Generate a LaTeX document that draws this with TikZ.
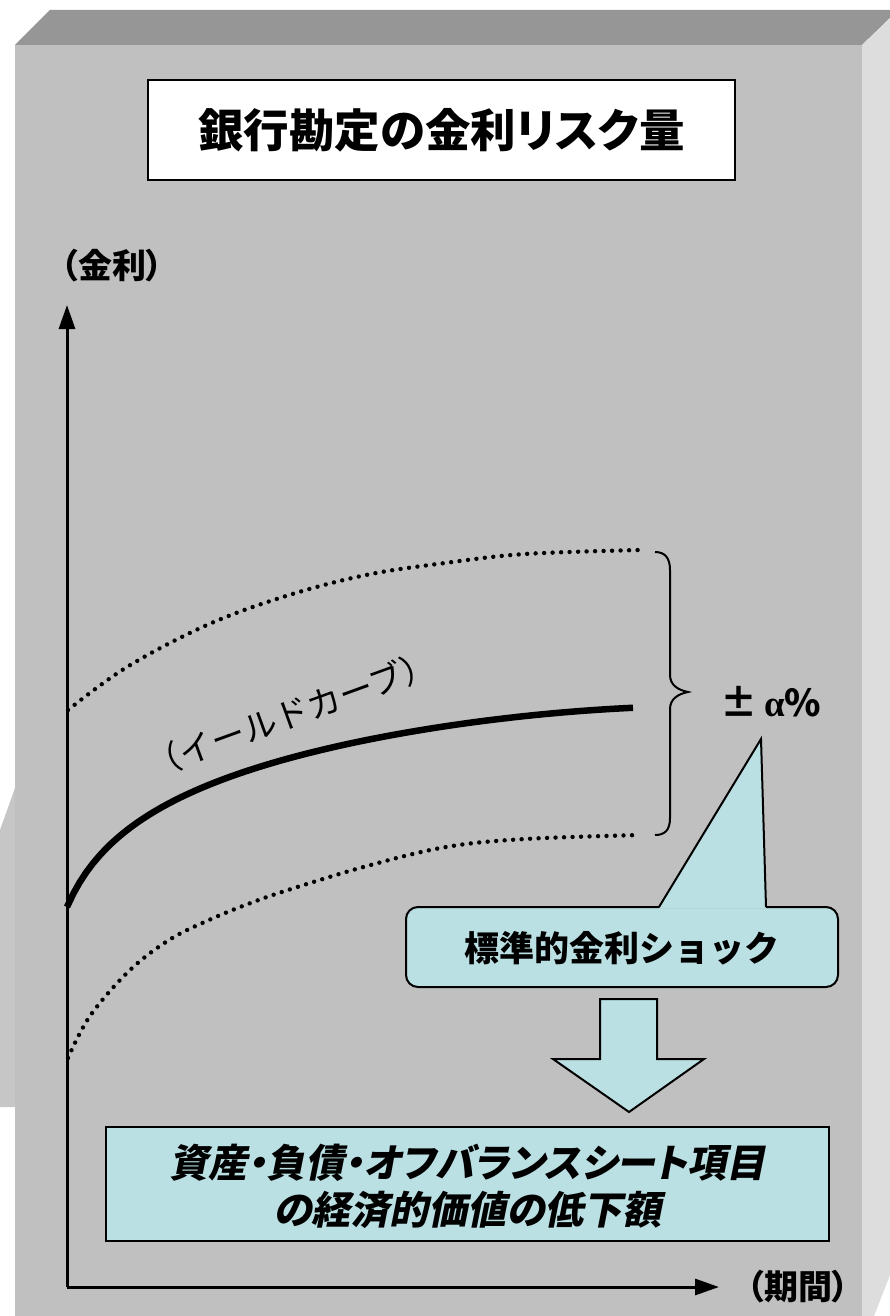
\documentclass[tikz,border=0pt]{standalone}
\usepackage{fontspec}
\newfontfamily\jp{Noto Sans CJK JP}[RawFeature=+palt]
\newfontfamily\jpw{Noto Sans CJK JP}
\newfontfamily\jpsl{Noto Sans CJK JP}[UprightFeatures={FakeSlant=0.2},BoldFeatures={FakeSlant=0.2},RawFeature=+palt]
\newfontfamily\lserif{Liberation Serif}
\usetikzlibrary{arrows.meta}
\definecolor{frontgray}{HTML}{C0C0C0}
\definecolor{topgray}{HTML}{969696}
\definecolor{sidegray}{HTML}{DDDDDD}
\definecolor{paleblue}{HTML}{BBE0E3}
\tikzset{
  axis/.style={line width=3pt,-{Triangle[length=24pt,width=16pt]}},
  curveline/.style={line width=6.5pt},
  dotline/.style={line width=4.4pt,line cap=round,dash pattern=on 0pt off 8.5pt},
  bluebox/.style={draw=black,line width=2pt,fill=paleblue},
  lbl/.style={inner sep=0pt,font=\jp\bfseries},
}
\begin{document}
\begin{tikzpicture}[x=1pt,y=-1pt]
\useasboundingbox (0,0) rectangle (890,1316);
\fill[white] (0,0) rectangle (890,1316);
% 3D box background
\fill[frontgray] (15,45) rectangle (862,1316);
\fill[topgray] (15,45) -- (50,10) -- (890,10) -- (890,18) -- (862,45) -- cycle;
\fill[sidegray] (862,45) -- (890,18) -- (890,1275) -- (874,1316) -- (862,1316) -- cycle;
\fill[frontgray!90!white] (15,788) -- (0,830) -- (0,1107) -- (15,1107) -- cycle;
% title
\node[draw=black,line width=2pt,fill=white,minimum width=587pt,minimum height=100pt,inner sep=0pt] (titlebox) at (441.5,130) {};
\node[lbl,font=\jp\bfseries\fontsize{45.5}{48}\selectfont] (title) at (441.5,130) {銀行勘定の金利リスク量};
% axes
\coordinate (origin) at (67,1287);
\coordinate (ytip) at (67,305);
\coordinate (xtip) at (719,1287);
\draw[axis] (origin) -- (ytip);
\draw[axis] (origin) -- (xtip);
\node[lbl,font=\jp\bfseries\fontsize{34}{36}\selectfont] (ylabel) at (112,266) {（金利）};
\node[lbl,font=\jp\bfseries\fontsize{34}{36}\selectfont] (xlabel) at (798,1287) {（期間）};
% curves
\draw[dotline] plot[smooth,tension=0.6] coordinates {(68,710) (127,667) (207,625) (286,596) (366,575) (445,563) (525,554) (640,550)};
\draw[curveline] plot[domain=0:566,samples=90,variable=\d] ({67+\d},{907-70*ln(1+\d/30)+10*(\d/566)^4});
\draw[dotline] plot[smooth,tension=0.6] coordinates {(68,1058) (90,1016) (129,971) (169,940) (209,920) (248,904) (288,890) (367,866) (446,847) (525,839) (640,835)};
\node[inner sep=0pt,rotate=20,font=\jpw\fontsize{34}{36}\selectfont] (yc) at (291,714) {（イールドカーブ）};
% brace
\draw[line width=2pt] (655,552) .. controls (665,552) and (670,558) .. (670,570) -- (670,675) .. controls (670,685) and (678,690) .. (688,692) .. controls (678,694) and (670,699) .. (670,709) -- (670,818) .. controls (670,830) and (665,835) .. (655,835);
\node[lbl,font=\jp\bfseries\fontsize{37}{38}\selectfont] (alpha) at (771,702) {±\,{\lserif\bfseries α}\%};
% callout
\node[bluebox,rounded corners=12pt,minimum width=432pt,minimum height=80pt,inner sep=0pt] (shockbox) at (622,947) {};
\fill[paleblue] (659,908.5) -- (761,739) -- (766,908.5) -- cycle;
\draw[line width=2pt] (659,907) -- (761,739) -- (766,907);
\node[inner sep=0pt,font=\jpw\bfseries\fontsize{35}{36}\selectfont] (shock) at (622,948) {標準的金利ショック};
% down arrow
\draw[bluebox,line width=2pt] (600,999) -- (657,999) -- (657,1059) -- (704,1059) -- (629,1112) -- (553,1059) -- (600,1059) -- cycle;
% result box
\node[bluebox,minimum width=723pt,minimum height=114pt,inner sep=0pt] (resbox) at (467.5,1184) {};
\node[inner sep=0pt,align=center,font=\jpsl\bfseries\fontsize{39}{47}\selectfont] (res) at (467.5,1186) {資産・負債・オフバランスシート項目\\の経済的価値の低下額};
\end{tikzpicture}
\end{document}
